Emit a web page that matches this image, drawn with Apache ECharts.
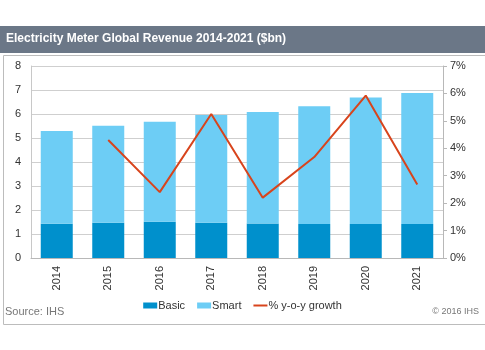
<!DOCTYPE html>
<html>
<head>
<meta charset="utf-8">
<script src="https://cdn.jsdelivr.net/npm/echarts@6/dist/echarts.min.js"></script>
<style>
  html, body { margin: 0; padding: 0; background: #fff; }
  #chart { width: 485px; height: 350px; }
</style>
</head>
<body>
<div id="chart"></div>
<script>
const years = ['2014', '2015', '2016', '2017', '2018', '2019', '2020', '2021']
const basic = [1.43, 1.47, 1.51, 1.47, 1.44, 1.42, 1.42, 1.42]
const smart = [3.86, 4.04, 4.17, 4.49, 4.64, 4.90, 5.27, 5.45]
const growth = [null, 4.3, 2.4, 5.25, 2.2, 3.68, 5.92, 2.68]
const leftTicks = { min: 0, max: 8, interval: 1 }
const rightTicks = { min: 0, max: 7, interval: 1 }

const font = 'Liberation Sans, Arial, sans-serif'

const chart = echarts.init(document.getElementById('chart'))
chart.setOption({
  animation: false,
  textStyle: { fontFamily: font },
  graphic: [
    // title bar
    { type: 'rect', left: 0, top: 26, shape: { width: 485, height: 27 }, style: { fill: '#6b7787' } },
    { type: 'text', left: 6, top: 33, style: { text: 'Electricity Meter Global Revenue 2014-2021 ($bn)', fill: '#fff', font: 'bold 12px ' + font } },
    // frame
    { type: 'rect', left: 1, top: 53, shape: { width: 482, height: 269 }, style: { fill: 'none', stroke: '#bcbcbc', lineWidth: 1 } },
    { type: 'text', left: 5, top: 306, style: { text: 'Source: IHS', fill: '#777', font: '11px ' + font } },
    { type: 'text', right: 6, top: 307, style: { text: '© 2016 IHS', fill: '#777', font: '9px ' + font } }
  ],
  legend: {
    top: 295,
    left: 'center',
    itemGap: 12,
    itemWidth: 14,
    itemHeight: 6,
    textStyle: { fontSize: 11, color: '#333', padding: [0, 0, 0, -4] },
    data: [
      { name: 'Basic', icon: 'rect' },
      { name: 'Smart', icon: 'rect' },
      { name: '% y-o-y growth', icon: 'path://M0,0 L14,0 L14,2 L0,2 Z', itemStyle: { color: '#d8441c' } }
    ]
  },
  grid: { left: 31, right: 42, top: 66, bottom: 92 },
  xAxis: {
    type: 'category',
    data: years,
    axisLine: { lineStyle: { color: '#b8b8b8' } },
    axisTick: { inside: true, length: 3, lineStyle: { color: '#b8b8b8' } },
    axisLabel: { rotate: 90, color: '#333', fontSize: 11, margin: 8 }
  },
  yAxis: [{
    type: 'value',
    min: leftTicks.min, max: leftTicks.max, interval: leftTicks.interval,
    axisLine: { show: true, lineStyle: { color: '#c8c8c8' } },
    axisTick: { show: false },
    splitLine: { lineStyle: { color: '#cfcfcf' } },
    axisLabel: { color: '#333', fontSize: 11, margin: 10 }
  }, {
    type: 'value',
    position: 'right',
    min: rightTicks.min, max: rightTicks.max, interval: rightTicks.interval,
    axisLine: { show: true, lineStyle: { color: '#b8b8b8' } },
    axisTick: { show: true, length: 4, lineStyle: { color: '#b8b8b8' } },
    splitLine: { show: false },
    axisLabel: { color: '#333', fontSize: 11, margin: 7, formatter: '{value}%' }
  }],
  series: [{
    name: 'Basic',
    type: 'bar',
    stack: 'rev',
    barWidth: 32,
    itemStyle: { color: '#0090cc' },
    data: basic
  }, {
    name: 'Smart',
    type: 'bar',
    stack: 'rev',
    barWidth: 32,
    itemStyle: { color: '#6dcdf5' },
    data: smart
  }, {
    name: '% y-o-y growth',
    type: 'line',
    yAxisIndex: 1,
    symbol: 'none',
    lineStyle: { color: '#d8441c', width: 2 },
    itemStyle: { color: '#d8441c' },
    data: growth
  }]
})
</script>
</body>
</html>
